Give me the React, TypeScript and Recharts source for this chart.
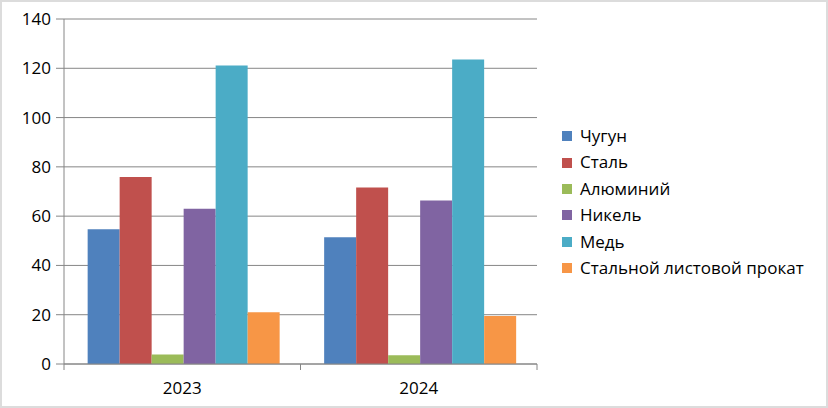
import React from "react";
import { BarChart, Bar, XAxis, YAxis, CartesianGrid } from "recharts";

const years = ["2023", "2024"];
const seriesNames = ["Чугун", "Сталь", "Алюминий", "Никель", "Медь", "Стальной листовой прокат"];
const chugun = [54.7, 51.4];
const stal = [75.9, 71.6];
const aluminiy = [3.9, 3.6];
const nikel = [63.0, 66.3];
const med = [121.1, 123.6];
const listovoy = [21.0, 19.5];
const yTicks = [0, 20, 40, 60, 80, 100, 120, 140];

const colors = ["#4F81BD", "#C0504D", "#9BBB59", "#8064A2", "#4BACC6", "#F79646"];
const keys = ["s0", "s1", "s2", "s3", "s4", "s5"];
const seriesValues = [chugun, stal, aluminiy, nikel, med, listovoy];

const data = years.map((y, i) => {
  const row: any = { year: y };
  keys.forEach((k, j) => (row[k] = seriesValues[j][i]));
  return row;
});

const FONT = "'Open Sans', sans-serif";
const AXIS = "#868686";

const XTick = (props: any) => {
  const { x, y, payload } = props;
  const off = payload.offset || 0;
  return (
    <g>
      <line x1={x - off} x2={x - off} y1={y - 8} y2={y - 2} stroke={AXIS} />
      <line x1={x + off} x2={x + off} y1={y - 8} y2={y - 2} stroke={AXIS} />
      <text x={x} y={y + 22} textAnchor="middle" fontFamily={FONT} fontSize={17} fill="#000">
        {payload.value}
      </text>
    </g>
  );
};

export default function App() {
  return (
    <div
      style={{
        position: "absolute",
        left: 0,
        top: 0,
        width: 828,
        height: 408,
        boxSizing: "border-box",
        border: "2px solid #dcdcdc",
        background: "#fff",
      }}
    >
      <div style={{ position: "absolute", left: -2, top: -2 }}>
        <BarChart
          width={828}
          height={408}
          data={data}
          margin={{ top: 19, right: 291, bottom: 14, left: 0 }}
          barCategoryGap="10%"
          barGap={0}
        >
          <CartesianGrid vertical={false} stroke={AXIS} strokeWidth={1} />
          <XAxis
            dataKey="year"
            axisLine={{ stroke: AXIS }}
            tickLine={false}
            tick={<XTick />}
            height={30}
            interval={0}
          />
          <YAxis
            width={64}
            domain={[0, 140]}
            ticks={yTicks}
            axisLine={{ stroke: AXIS }}
            tickLine={{ stroke: AXIS }}
            tickSize={8}
            tickMargin={5}
            tick={{ fontFamily: FONT, fontSize: 17, fill: "#000" }}
          />
          {keys.map((k, i) => (
            <Bar key={k} dataKey={k} name={seriesNames[i]} fill={colors[i]} isAnimationActive={false} />
          ))}
        </BarChart>
      </div>
      <div
        style={{
          position: "absolute",
          left: 560,
          top: 121,
          fontFamily: FONT,
          fontSize: 17,
          color: "#000",
          lineHeight: "26.4px",
        }}
      >
        {seriesNames.map((n, i) => (
          <div key={n} style={{ display: "flex", alignItems: "center", height: 26.4, whiteSpace: "nowrap" }}>
            <span style={{ display: "inline-block", width: 10, height: 10, background: colors[i], marginRight: 8 }} />
            <span>{n}</span>
          </div>
        ))}
      </div>
    </div>
  );
}
